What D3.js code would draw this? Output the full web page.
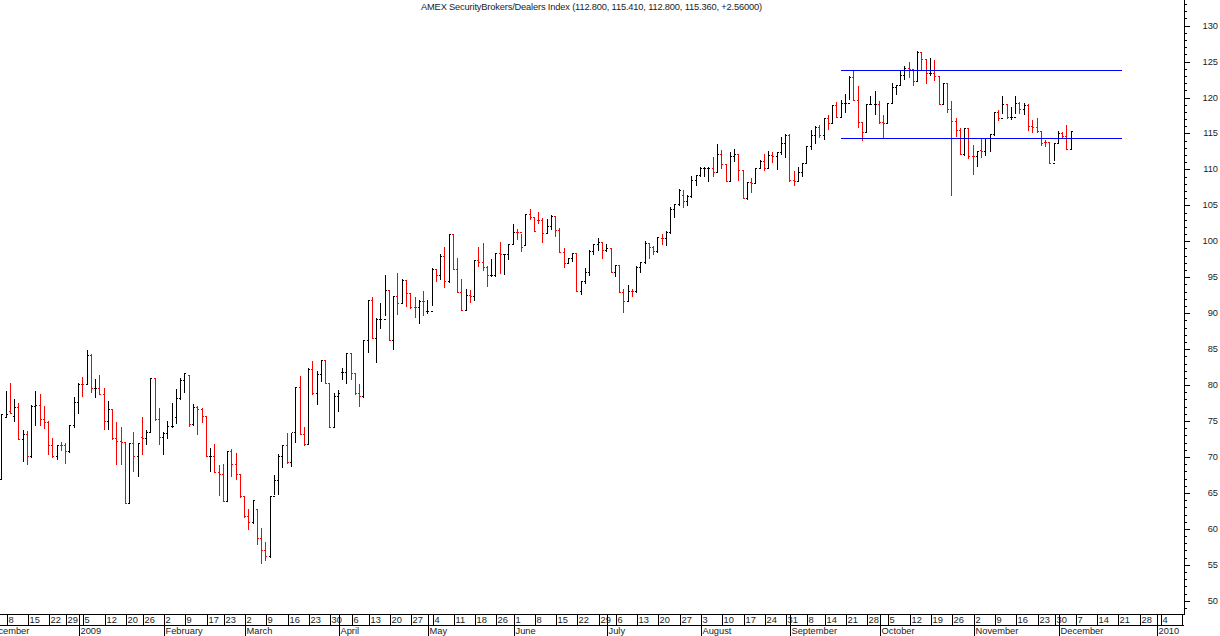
<!DOCTYPE html>
<html>
<head>
<meta charset="utf-8">
<script src="https://cdn.jsdelivr.net/npm/d3@7"></script>
<style>
  html, body { margin: 0; padding: 0; background: #fff; overflow: hidden; }
  svg { display: block; }
  text { font-family: "Liberation Sans", Arial, sans-serif; font-size: 9.3px; fill: #1c1c1c; }
</style>
</head>
<body>
<script>
var title = "AMEX SecurityBrokers/Dealers Index (112.800, 115.410, 112.800, 115.360, +2.56000)";

var opens = [
  67.0,75.6,76.4,75.7,76.91,72.55,73.15,70.09,77.14,77.2,
  75.24,74.87,71.62,70.09,71.62,71.6,70.79,74.4,77.6,80.15,
  80.1,84.23,79.55,79.56,78.76,75.0,76.63,72.69,72.18,72.04,
  63.55,71.9,70.18,72.73,72.6,73.43,80.98,75.24,72.73,73.29,
  74.26,75.5,78.16,80.66,81.36,74.54,76.91,76.67,75.65,70.1,
  70.11,67.87,67.59,63.93,70.83,69.02,67.59,64.53,61.75,60.91,
  62.77,58.69,57.02,56.23,64.53,66.75,70.09,71.62,69.35,73.43,
  79.69,73.24,71.85,82.28,78.85,81.49,83.44,80.24,74.12,78.43,
  81.77,81.77,84.41,81.63,78.85,78.43,86.22,91.83,86.5,89.14,
  89.2,93.18,86.22,92.34,91.37,94.57,92.76,90.81,90.8,91.69,
  90.35,90.36,96.1,95.26,97.91,94.48,100.97,96.19,93.0,90.4,
  92.48,92.4,97.35,97.17,96.38,95.26,95.3,98.32,98.2,98.2,
  99.57,101.29,101.28,99.44,103.75,103.33,103.0,102.92,101.11,102.08,
  103.47,101.53,98.56,96.94,97.63,98.33,93.13,94.43,95.68,98.6,
  99.58,99.86,98.74,99.02,95.78,96.66,93.0,91.65,93.13,93.1,
  96.43,97.08,99.72,99.16,98.61,100.48,100.41,101.29,104.45,105.14,
  106.39,105.56,106.3,108.48,109.17,110.15,110.15,110.24,109.59,112.1,
  110.7,108.43,111.82,112.1,109.87,105.98,108.2,108.15,110.15,111.12,
  110.15,111.96,111.9,112.37,113.62,114.83,108.53,108.4,109.6,110.84,
  113.26,114.73,115.85,114.73,117.1,116.4,118.9,117.24,119.24,119.25,
  122.81,119.66,116.55,115.16,119.05,119.06,119.1,116.55,116.46,119.24,
  121.42,121.69,123.09,124.06,124.0,122.25,126.33,125.31,123.36,123.4,
  122.95,119.05,121.97,118.36,116.69,115.44,112.1,115.7,111.82,111.8,
  112.66,112.6,114.32,114.88,117.94,117.1,119.05,117.24,117.25,119.19,
  118.36,118.91,115.99,115.85,115.3,113.8,113.75,110.94,113.63,115.02,114.6,112.8
];
var highs = [
  76.0,79.18,80.29,78.02,77.46,73.71,73.57,77.18,79.18,78.71,
  77.09,75.0,72.64,71.62,72.08,71.9,74.4,78.34,80.24,81.08,
  84.88,84.32,80.8,81.36,79.59,77.74,76.63,74.87,74.12,72.08,
  71.9,73.47,71.9,75.51,73.75,80.98,80.98,76.77,73.43,75.0,
  77.46,79.41,80.98,81.63,81.36,77.32,77.09,76.77,75.7,71.2,
  71.76,68.84,69.02,70.83,71.06,70.55,67.59,64.57,62.77,63.97,
  62.77,60.08,58.18,64.53,67.49,70.41,71.62,73.34,73.38,79.69,
  81.26,74.17,82.33,83.3,81.91,83.44,83.44,80.24,78.85,79.27,
  82.33,84.41,84.41,81.63,80.1,86.22,91.83,92.2,89.28,91.37,
  95.26,93.09,92.34,95.54,94.8,94.57,92.76,92.2,91.83,93.09,
  91.79,96.24,96.1,98.2,99.16,100.97,100.97,97.67,94.71,93.32,
  93.22,97.35,99.16,99.71,96.56,97.49,98.32,99.85,98.2,99.62,
  102.4,101.66,100.97,103.75,104.45,103.33,104.03,103.2,103.1,103.61,
  103.47,101.8,99.02,97.63,98.33,98.33,94.43,96.24,98.74,99.58,
  100.41,99.86,99.58,99.02,96.66,96.66,93.32,93.88,93.41,96.52,
  97.08,100.0,99.72,99.3,100.55,101.02,101.39,104.72,105.14,107.23,
  107.09,106.39,109.04,109.17,110.29,110.29,110.29,111.68,113.49,112.7,
  110.7,112.42,112.79,111.96,109.87,108.2,108.76,110.15,111.26,112.1,
  112.51,112.37,112.37,114.46,114.87,114.87,109.73,110.29,110.84,113.26,
  115.48,115.99,116.12,117.1,117.52,118.91,119.38,119.66,120.49,122.99,
  123.78,121.56,116.55,119.05,120.17,120.86,119.52,117.52,119.24,121.97,
  121.69,123.78,124.34,124.89,123.78,126.42,126.33,125.31,125.45,125.22,
  122.95,121.97,121.97,119.47,117.11,115.71,115.71,115.71,113.35,112.52,
  114.32,114.32,114.88,117.94,118.22,120.17,119.05,118.64,120.17,119.33,
  119.19,119.1,116.83,117.11,115.3,114.05,113.77,113.63,115.3,115.16,116.13,115.41
];
var lows = [
  67.0,75.61,76.16,75.05,72.55,69.49,69.07,70.04,74.49,74.49,
  74.08,70.46,70.04,69.77,70.92,69.21,70.74,74.22,76.16,78.53,
  80.1,79.08,78.39,78.71,73.94,73.94,72.55,69.07,69.07,63.55,
  63.55,68.1,67.4,70.41,71.85,73.43,75.19,71.85,70.41,72.69,
  74.17,74.77,78.02,78.99,74.26,74.49,73.2,74.91,70.14,68.1,
  67.87,64.76,63.93,63.93,67.4,66.98,64.48,61.7,60.03,60.86,
  57.94,55.3,55.72,56.14,64.85,64.85,68.65,69.16,68.79,72.08,
  73.24,71.71,71.85,78.81,77.41,80.61,80.24,74.12,74.12,76.44,
  80.89,80.33,80.89,78.81,77.14,78.39,84.65,86.5,83.26,87.89,
  89.75,86.22,85.07,89.93,91.37,91.0,90.67,89.52,88.68,89.79,
  90.07,91.18,94.52,94.8,93.69,94.38,96.19,92.99,90.4,90.54,
  91.6,91.88,96.61,96.0,93.83,95.22,95.22,95.54,95.4,97.58,
  99.62,100.27,98.69,99.44,103.06,101.48,102.5,99.95,101.11,101.66,
  100.78,98.56,96.47,96.94,97.31,93.13,92.72,94.25,95.36,98.28,
  98.79,97.72,98.7,95.78,95.22,93.0,90.21,91.65,92.44,93.0,
  95.78,97.03,97.72,98.28,98.56,99.67,99.49,101.11,103.38,105.1,
  104.82,105.1,106.21,107.88,109.04,109.04,108.43,109.13,109.59,110.24,
  108.43,108.53,111.21,108.57,105.98,105.88,106.9,108.15,110.15,109.92,
  110.24,111.08,110.1,112.14,111.77,108.43,107.88,108.53,109.13,110.84,
  112.79,113.62,114.55,114.18,115.57,116.46,117.24,117.24,118.03,119.79,
  119.66,115.95,114.14,115.16,119.05,117.71,116.46,114.32,116.46,119.28,
  120.54,121.69,122.62,122.81,121.79,122.25,123.78,122.07,123.09,122.39,
  119.05,119.05,117.94,106.49,114.69,112.1,112.05,111.54,109.41,110.52,
  111.77,112.05,112.52,114.79,116.87,117.8,117.15,116.97,117.8,117.8,
  117.66,115.44,115.25,115.16,113.4,113.26,110.94,111.31,113.63,114.32,112.79,112.8
];
var closes = [
  76.0,76.0,76.16,76.91,72.55,73.15,70.09,77.14,77.2,75.24,
  74.87,71.62,70.09,71.62,71.6,70.79,74.4,77.6,80.15,80.1,
  84.23,79.55,79.56,78.76,75.0,76.63,72.69,72.18,72.04,63.55,
  71.9,70.18,71.9,72.6,73.43,80.98,75.24,72.73,73.29,74.26,
  74.27,78.16,80.66,81.63,74.54,76.91,76.67,75.65,70.1,70.11,
  67.87,67.59,63.93,70.83,69.02,67.59,64.53,61.75,60.91,63.97,
  58.69,57.02,56.23,64.53,66.75,70.09,71.62,69.35,73.43,79.69,
  73.24,71.85,82.28,78.85,81.49,83.44,80.24,74.12,78.43,78.85,
  81.77,84.41,81.63,78.85,78.43,86.22,91.83,86.5,89.14,89.2,
  93.18,86.22,92.34,91.37,94.57,92.76,90.81,90.8,91.69,91.68,
  90.36,96.1,95.26,97.91,94.48,100.97,96.19,93.0,90.4,92.48,
  92.4,97.35,97.17,96.38,95.26,95.3,98.32,98.3,98.2,99.57,
  101.29,101.28,99.16,103.75,103.33,101.48,102.92,101.11,102.08,103.47,
  101.53,98.56,96.94,97.63,98.33,93.13,94.43,95.68,98.6,99.58,
  99.86,98.74,99.02,95.78,96.66,93.0,91.65,93.13,93.1,96.43,
  97.08,99.72,99.16,98.61,100.55,100.41,101.29,104.45,105.14,107.14,
  105.56,106.3,108.48,109.17,110.15,110.15,110.24,109.59,112.1,110.7,
  108.43,111.82,112.1,109.87,105.98,108.2,108.15,110.15,111.12,110.15,
  111.96,111.9,112.37,113.62,114.83,108.53,108.4,109.6,110.84,113.26,
  114.73,115.85,114.73,117.1,116.4,118.9,117.24,119.24,119.25,122.81,
  119.66,116.55,115.16,119.05,119.06,119.1,116.55,116.46,119.24,121.42,
  121.69,123.09,124.06,124.0,122.25,126.33,125.31,123.36,123.4,122.95,
  119.05,121.97,118.36,116.69,115.44,112.1,115.7,111.82,111.8,112.52,
  112.6,114.32,114.88,117.94,117.1,119.05,117.24,117.25,119.19,118.36,
  118.91,115.99,115.85,115.3,113.63,113.75,110.94,113.63,115.02,114.6,112.8,115.36
];

// support and resistance lines, in bar numbers and index points
var levelPrices = [123.78, 114.33];
var levelStart = 197.1;
var levelEnd = 263;

// time axis, positions are bar numbers
var weekLabels = ["8","15","22","29","5","12","20","26","2","9","17","23","2","9","16","23","30",
  "6","13","20","27","4","11","18","26","1","8","15","22","29","6","13","20","27",
  "3","10","17","24","31","8","14","21","28","5","12","19","26","2","9","16","23","30",
  "7","14","21","28","4","11"];
var weekBars = [1,6,11,15,19,24,29,33,38,43,48,52,57,62,67,72,77,
  82,86,91,96,101,106,111,116,120,125,130,135,140,144,149,154,159,
  164,169,174,179,184,189,193,198,203,208,213,218,223,228,233,238,243,247,
  252,257,262,267,272,277];
var monthLabels = ["December","2009","February","March","April","May","June","July","August","September","October","November","December","2010"];
var monthBars = [-4,18,38,57,79,100,120,142,164,185,206,228,248,271];

var priceMajor = [50,55,60,65,70,75,80,85,90,95,100,105,110,115,120,125,130];
var priceMinor = [49,51,52,53,54,56,57,58,59,61,62,63,64,66,67,68,69,71,72,73,74,76,77,78,79,
  81,82,83,84,86,87,88,89,91,92,93,94,96,97,98,99,101,102,103,104,106,107,108,109,
  111,112,113,114,116,117,118,119,121,122,123,124,126,127,128,129,131,132,133];

var width = 1220, height = 636;
var axisX = 1184, axisTop = 614, axisMid = 625;

var x = d3.scaleLinear().domain([0, 251]).range([1.3, 1070.6]);
var y = d3.scaleLinear().domain([50, 130]).range([600.8, 25.6]);

function px(i) { return Math.round(x(i)) + 0.5; }
function py(v) { return Math.round(y(v)) + 0.5; }

var svg = d3.select("body").append("svg")
  .attr("width", width).attr("height", height)
  .attr("shape-rendering", "crispEdges");

svg.append("defs").append("clipPath").attr("id", "timeClip")
  .append("rect").attr("x", 0).attr("y", axisTop).attr("width", axisX).attr("height", height - axisTop);

svg.append("text")
  .attr("x", 421).attr("y", 10)
  .attr("textLength", 341)
  .text(title);

// bars
var bars = svg.append("g").selectAll("g")
  .data(d3.range(closes.length))
  .join("g")
  .attr("stroke", function(i) { return closes[i] >= opens[i] ? "#000000" : "#ff0000"; });

bars.append("line")
  .attr("x1", px).attr("x2", px)
  .attr("y1", function(i) { return Math.round(y(highs[i])); })
  .attr("y2", function(i) { return Math.round(y(lows[i])) + 1; });

bars.append("line")
  .attr("x1", function(i) { return px(i) - 1.5; })
  .attr("x2", function(i) { return px(i); })
  .attr("y1", function(i) { return py(opens[i]); })
  .attr("y2", function(i) { return py(opens[i]); });

bars.append("line")
  .attr("x1", px)
  .attr("x2", function(i) { return px(i) + 1.5; })
  .attr("y1", function(i) { return py(closes[i]); })
  .attr("y2", function(i) { return py(closes[i]); });

// blue levels
svg.append("g").selectAll("line")
  .data(levelPrices)
  .join("line")
  .attr("x1", x(levelStart)).attr("x2", x(levelEnd))
  .attr("y1", py).attr("y2", py)
  .attr("stroke", "#0000ff");

// price axis
var majorAxis = d3.axisRight(y).tickValues(priceMajor).tickSize(6).tickPadding(14).tickFormat(d3.format("d"));
var minorAxis = d3.axisRight(y).tickValues(priceMinor).tickSize(3).tickFormat("");

var gMinor = svg.append("g").attr("transform", "translate(" + axisX + ",0)").call(minorAxis);
var gMajor = svg.append("g").attr("transform", "translate(" + axisX + ",0)").call(majorAxis);
gMinor.select(".domain").remove();
gMajor.select(".domain").remove();
[gMinor, gMajor].forEach(function(g) {
  g.selectAll(".tick").attr("transform", function(d) { return "translate(0," + py(d) + ")"; });
});
gMajor.selectAll("text")
  .attr("x", 34).attr("dy", "0.26em")
  .attr("text-anchor", "end")
  .style("font-family", "\"Liberation Sans\", Arial, sans-serif")
  .style("font-size", "9.3px");

svg.append("line").attr("x1", axisX + 0.5).attr("x2", axisX + 0.5).attr("y1", 0).attr("y2", axisTop + 1).attr("stroke", "#000");

// time axis
svg.append("line").attr("x1", 0).attr("x2", axisX).attr("y1", axisTop + 0.5).attr("y2", axisTop + 0.5).attr("stroke", "#000");
svg.append("line").attr("x1", 0).attr("x2", axisX).attr("y1", axisMid + 0.5).attr("y2", axisMid + 0.5).attr("stroke", "#000");

var timeAxis = svg.append("g").attr("clip-path", "url(#timeClip)");

timeAxis.append("g").selectAll("line")
  .data(weekBars)
  .join("line")
  .attr("x1", function(i) { return px(i) + 1; })
  .attr("x2", function(i) { return px(i) + 1; })
  .attr("y1", axisTop).attr("y2", axisMid)
  .attr("stroke", "#000");

timeAxis.append("g").selectAll("text")
  .data(weekBars)
  .join("text")
  .attr("x", function(i) { return px(i) + 2; })
  .attr("y", 623)
  .text(function(d, n) { return weekLabels[n]; });

timeAxis.append("g").selectAll("line")
  .data(monthBars)
  .join("line")
  .attr("x1", function(i) { return px(i) + 1; })
  .attr("x2", function(i) { return px(i) + 1; })
  .attr("y1", axisTop).attr("y2", height)
  .attr("stroke", "#000");

timeAxis.append("g").selectAll("text")
  .data(monthBars)
  .join("text")
  .attr("x", function(i) { return px(i) + 2; })
  .attr("y", 634)
  .text(function(d, n) { return monthLabels[n]; });
</script>
</body>
</html>
